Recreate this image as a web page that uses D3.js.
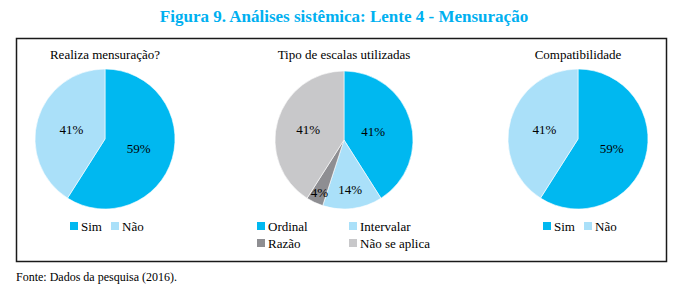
<!DOCTYPE html>
<html>
<head>
<meta charset="utf-8">
<script src="https://cdn.jsdelivr.net/npm/d3@7"></script>
<style>
  body { margin: 0; background: #fff; }
</style>
</head>
<body>
<div id="chart"></div>
<script>
// Figura 9 - three pies (lente 4, mensuração)

const chartTitles = ["Realiza mensuração?", "Tipo de escalas utilizadas", "Compatibilidade"];

const mensuracaoLabels = ["Sim", "Não"];
const mensuracaoValues = [59, 41];

const escalasLabels = ["Ordinal", "Intervalar", "Razão", "Não se aplica"];
const escalasValues = [41, 14, 4, 41];

const compatLabels = ["Sim", "Não"];
const compatValues = [59, 41];

const simNaoColors = ["#00b8f0", "#aae0f9"];
const escalasColors = ["#00b8f0", "#aae0f9", "#8e8e92", "#c8c8ca"];

const width = 690, height = 300;
const serif = "Liberation Serif";

const svg = d3.select("#chart").append("svg")
  .attr("width", width)
  .attr("height", height)
  .attr("font-family", serif);

// figure caption
svg.append("text")
  .attr("x", 344)
  .attr("y", 22)
  .attr("text-anchor", "middle")
  .style("font-size", "17px")
  .style("font-weight", "bold")
  .style("fill", "#00b0f0")
  .text("Figura 9. Análises sistêmica: Lente 4 - Mensuração");

// frame
svg.append("rect")
  .attr("x", 16.5)
  .attr("y", 38.5)
  .attr("width", 650)
  .attr("height", 223)
  .attr("fill", "none")
  .attr("stroke", "#1a1a1a")
  .attr("stroke-width", 1.5);

// source
svg.append("text")
  .attr("x", 16)
  .attr("y", 281)
  .style("font-size", "12px")
  .text("Fonte: Dados da pesquisa (2016).");

const pie = d3.pie().sort(null).value(d => d.value);

function drawPie(cx, cy, r, title, labels, values, colors, labelPos, legendItems) {
  const g = svg.append("g");
  const data = labels.map((l, i) => ({ label: l, value: values[i] }));
  const arcs = pie(data);
  const arc = d3.arc().innerRadius(0).outerRadius(r);

  g.append("text")
    .attr("x", cx)
    .attr("y", 59)
    .attr("text-anchor", "middle")
    .style("font-size", "13px")
    .text(title);

  g.selectAll("path.slice")
    .data(arcs)
    .enter().append("path")
    .attr("class", "slice")
    .attr("transform", `translate(${cx},${cy})`)
    .attr("d", arc)
    .attr("fill", (d, i) => colors[i])
    .attr("stroke", "#fff")
    .attr("stroke-width", 0.6);

  // percentage labels, placed by a radial factor for each slice
  const labelArc = d3.arc();
  g.selectAll("text.pct")
    .data(arcs)
    .enter().append("text")
    .attr("class", "pct")
    .attr("transform", (d, i) => {
      const rr = r * labelPos[i];
      const c = labelArc.innerRadius(rr).outerRadius(rr).centroid(d);
      return `translate(${cx + c[0]},${cy + c[1]})`;
    })
    .attr("text-anchor", "middle")
    .attr("dy", "0.35em")
    .style("font-size", "13px")
    .text(d => d.data.value + "%");

  // legend
  legendItems.forEach((it, i) => {
    g.append("rect")
      .attr("x", it.x)
      .attr("y", it.y - 9)
      .attr("width", 8)
      .attr("height", 8)
      .attr("fill", colors[i]);
    g.append("text")
      .attr("x", it.x + 11)
      .attr("y", it.y)
      .style("font-size", "13px")
      .text(labels[i]);
  });
}

drawPie(105, 139, 70, chartTitles[0], mensuracaoLabels, mensuracaoValues, simNaoColors,
  [0.5, 0.5],
  [{ x: 70, y: 231 }, { x: 111, y: 231 }]);

drawPie(344, 140, 69, chartTitles[1], escalasLabels, escalasValues, escalasColors,
  [0.44, 0.72, 0.84, 0.54],
  [{ x: 257, y: 231 }, { x: 349, y: 231 }, { x: 257, y: 248 }, { x: 349, y: 248 }]);

drawPie(578, 139, 70, chartTitles[2], compatLabels, compatValues, simNaoColors,
  [0.5, 0.5],
  [{ x: 543, y: 231 }, { x: 584, y: 231 }]);
</script>
</body>
</html>
